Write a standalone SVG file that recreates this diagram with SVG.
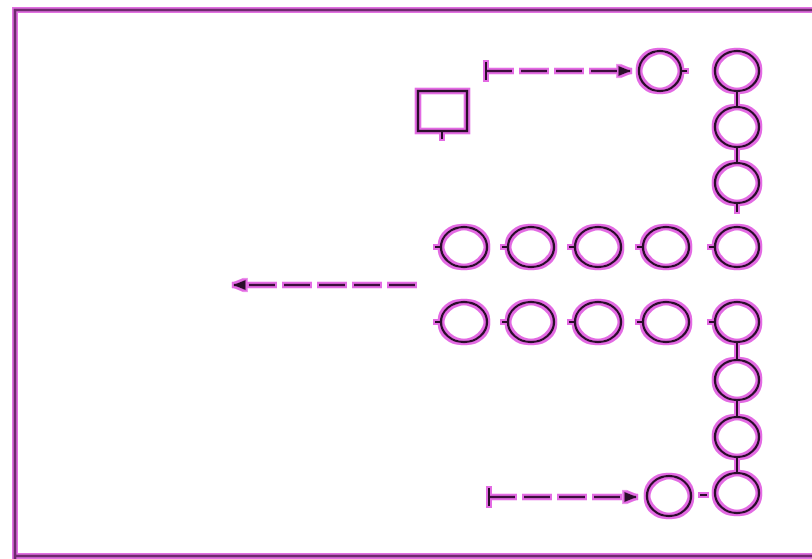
<svg xmlns="http://www.w3.org/2000/svg" width="812" height="559" viewBox="0 0 812 559">
<defs>
<filter id="glow" x="-10%" y="-10%" width="120%" height="120%">
<feMorphology in="SourceAlpha" operator="dilate" radius="1.5" result="d"/>
<feFlood flood-color="#e36be3"/>
<feComposite operator="in" in2="d" result="h"/>
<feMerge><feMergeNode in="h"/><feMergeNode in="SourceGraphic"/></feMerge>
</filter>
<marker id="ah" viewBox="0 0 10 10" refX="9" refY="5" markerWidth="5" markerHeight="5" orient="auto-start-reverse" markerUnits="strokeWidth">
<path d="M0,1 L10,5 L0,9 z" fill="#2a0a2a"/>
</marker>
<style>
.n{fill:none;stroke:#2a0a2a;stroke-width:2.6}
.t{stroke:#2a0a2a;stroke-width:2}
.c{fill:none;stroke:#3a0f3a;stroke-width:2.6;stroke-dasharray:26 9}
</style>
</defs>
<g id="frame">
<path d="M15,900 V10 H900 M15,556 H900" fill="none" stroke="#e070e0" stroke-width="6"/>
<path d="M15,900 V10 H900 M15,556 H900" fill="none" stroke="#6e2a6e" stroke-width="2.6"/>
</g>
<g filter="url(#glow)">
<g id="connectors">
<path class="c" d="M486,71 H630" marker-end="url(#ah)"/>
<path class="t" d="M486,62 V80"/>
<path class="c" d="M415,285 H234" marker-end="url(#ah)"/>
<path class="c" d="M489,497 H636" marker-end="url(#ah)"/>
<path class="t" d="M489,488 V506"/>
<path class="t" d="M681,71 H687 M737,91 V107 M737,147 V163 M737,203 V212 M737,342 V360 M737,400 V417 M737,457 V473 M700,495 H707 M442,132 V139"/>
</g>
<g id="square"><rect class="n" x="418" y="91" width="49" height="40"/></g>
<g id="n-top"><ellipse class="n" cx="660" cy="71" rx="21" ry="20"/></g>
<g id="c1"><ellipse class="n" cx="737" cy="71" rx="22" ry="20"/></g>
<g id="c2"><ellipse class="n" cx="737" cy="127" rx="22" ry="20"/></g>
<g id="c3"><ellipse class="n" cx="737" cy="183" rx="22" ry="20"/></g>
<g id="r1a"><ellipse class="n" cx="464" cy="247" rx="23" ry="20"/><path class="t" d="M435,247 H441"/></g>
<g id="r1b"><ellipse class="n" cx="531" cy="247" rx="23" ry="20"/><path class="t" d="M502,247 H508"/></g>
<g id="r1c"><ellipse class="n" cx="598" cy="247" rx="23" ry="20"/><path class="t" d="M569,247 H575"/></g>
<g id="r1d"><ellipse class="n" cx="666" cy="247" rx="23" ry="20"/><path class="t" d="M637,247 H643"/></g>
<g id="r1e"><ellipse class="n" cx="737" cy="247" rx="22" ry="20"/><path class="t" d="M709,247 H715"/></g>
<g id="r2a"><ellipse class="n" cx="464" cy="322" rx="23" ry="20"/><path class="t" d="M435,322 H441"/></g>
<g id="r2b"><ellipse class="n" cx="531" cy="322" rx="23" ry="20"/><path class="t" d="M502,322 H508"/></g>
<g id="r2c"><ellipse class="n" cx="598" cy="322" rx="23" ry="20"/><path class="t" d="M569,322 H575"/></g>
<g id="r2d"><ellipse class="n" cx="666" cy="322" rx="23" ry="20"/><path class="t" d="M637,322 H643"/></g>
<g id="r2e"><ellipse class="n" cx="737" cy="322" rx="22" ry="20"/><path class="t" d="M709,322 H715"/></g>
<g id="c6"><ellipse class="n" cx="737" cy="380" rx="22" ry="20"/></g>
<g id="c7"><ellipse class="n" cx="737" cy="437" rx="22" ry="20"/></g>
<g id="c8"><ellipse class="n" cx="737" cy="493" rx="22" ry="20"/></g>
<g id="n-bottom"><ellipse class="n" cx="669" cy="496" rx="22" ry="20"/></g>
</g>
</svg>
